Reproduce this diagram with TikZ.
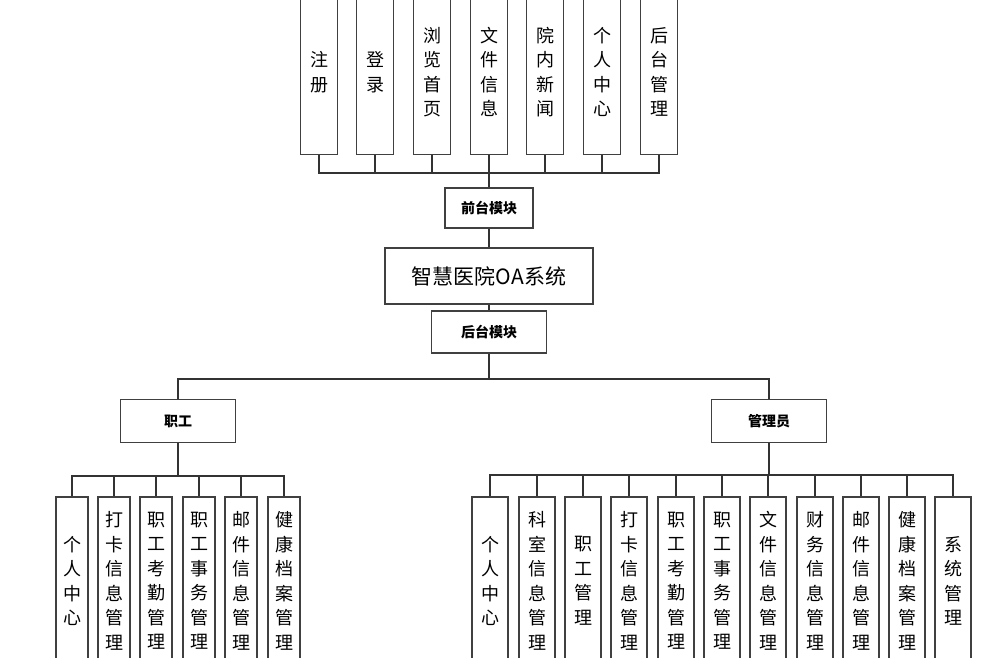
\documentclass[tikz,border=0pt]{standalone}
\usepackage{fontspec}
\setmainfont{Noto Sans CJK SC}
\usetikzlibrary{positioning}
\tikzset{
  box/.style={draw=black!75, line width=1.1pt, fill=white, inner sep=0pt},
  leaf/.style={box, minimum width=37pt, minimum height=168pt, align=center,
    font=\fontsize{18}{24.5}\selectfont},
  mod/.style={box, minimum height=40pt, font=\fontsize{14}{16}\selectfont\bfseries},
  wire/.style={draw=black!80, line width=1.1pt}
}
\begin{document}
\begin{tikzpicture}[x=1pt,y=-1pt]
\useasboundingbox (0,0) rectangle (999,658);
% front end
\node[mod, minimum width=88pt] (front) at (489,208) {前台模块};
\node[box, minimum width=208pt, minimum height=56pt, font=\fontsize{21}{22}\selectfont] (sys) at (489,276) {智慧医院OA系统};
\node[mod, minimum width=115pt, minimum height=42pt] (back) at (489,332) {后台模块};
\coordinate (ftop) at (489,173);
\foreach \i/\x/\t in {1/319/注\\册, 2/375/登\\录, 3/432/浏\\览\\首\\页, 4/489/文\\件\\信\\息,
    5/545/院\\内\\新\\闻, 6/602/个\\人\\中\\心, 7/659/后\\台\\管\\理} {
  \node[leaf, minimum height=165pt] (f\i) at (\x,72) {\t};
  \draw[wire] (f\i.south) |- (ftop);
}
\draw[wire] (ftop) -- (front);
\draw[wire] (front) -- (sys);
\draw[wire] (sys) -- (back);
% back end
\node[mod, minimum width=115pt, minimum height=43pt] (staff) at (178,421) {职工};
\node[mod, minimum width=115pt, minimum height=43pt] (admin) at (769,421) {管理员};
\coordinate (btop) at (489,379);
\draw[wire] (back) -- (btop);
\draw[wire] (staff.north) |- (btop) -| (admin.north);
\coordinate (sbus) at (178,476);
\draw[wire] (staff) -- (sbus);
\foreach \i/\x/\t in {1/72/个\\人\\中\\心, 2/114/打\\卡\\信\\息\\管\\理, 3/156/职\\工\\考\\勤\\管\\理,
    4/199/职\\工\\事\\务\\管\\理, 5/241/邮\\件\\信\\息\\管\\理, 6/284/健\\康\\档\\案\\管\\理} {
  \node[leaf, minimum width=32pt] (s\i) at (\x,581) {\t};
  \draw[wire] (s\i.north) |- (sbus);
}
\coordinate (abus) at (769,475);
\draw[wire] (admin) -- (abus);
\foreach \i/\x/\t in {1/490/个\\人\\中\\心, 2/537/科\\室\\信\\息\\管\\理, 3/583/职\\工\\管\\理,
    4/629/打\\卡\\信\\息\\管\\理, 5/676/职\\工\\考\\勤\\管\\理, 6/722/职\\工\\事\\务\\管\\理,
    7/768/文\\件\\信\\息\\管\\理, 8/815/财\\务\\信\\息\\管\\理, 9/861/邮\\件\\信\\息\\管\\理,
    10/907/健\\康\\档\\案\\管\\理, 11/953/系\\统\\管\\理} {
  \node[leaf, minimum width=36pt] (a\i) at (\x,581) {\t};
  \draw[wire] (a\i.north) |- (abus);
}
\end{tikzpicture}
\end{document}
